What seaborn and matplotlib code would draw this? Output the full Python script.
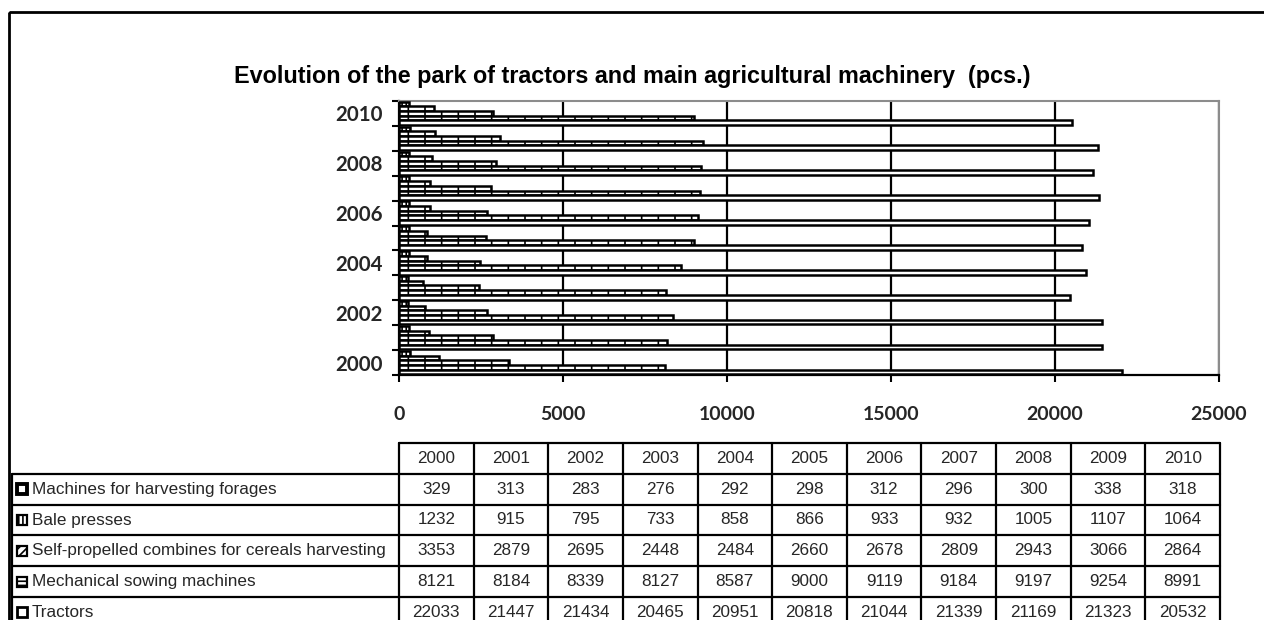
import numpy as np
import pandas as pd
import matplotlib
matplotlib.use("Agg")
import matplotlib.pyplot as plt
from matplotlib.patches import Rectangle
import seaborn as sns

years = ["2000", "2001", "2002", "2003", "2004", "2005",
         "2006", "2007", "2008", "2009", "2010"]
series = ["Machines for harvesting forages",
          "Bale presses",
          "Self-propelled combines for cereals harvesting",
          "Mechanical sowing machines",
          "Tractors"]
forages = [329, 313, 283, 276, 292, 298, 312, 296, 300, 338, 318]
bale_presses = [1232, 915, 795, 733, 858, 866, 933, 932, 1005, 1107, 1064]
combines = [3353, 2879, 2695, 2448, 2484, 2660, 2678, 2809, 2943, 3066, 2864]
sowing = [8121, 8184, 8339, 8127, 8587, 9000, 9119, 9184, 9197, 9254, 8991]
tractors = [22033, 21447, 21434, 20465, 20951, 20818, 21044, 21339, 21169, 21323, 20532]
values = [forages, bale_presses, combines, sowing, tractors]
title = "Evolution of the park of tractors and main agricultural machinery  (pcs.)"
x_ticks = [0, 5000, 10000, 15000, 20000, 25000]

rows = []
for name, vals in zip(series, values):
    for yr, v in zip(years, vals):
        rows.append({"year": yr, "series": name, "count": v})
df = pd.DataFrame(rows)

sns.set_theme(style="white")
plt.rcParams["font.family"] = ["Liberation Sans", "DejaVu Sans"]
plt.rcParams["hatch.linewidth"] = 1.2

W, H = 1264, 620
fig = plt.figure(figsize=(W / 100, H / 100), dpi=100)
fig.patch.set_facecolor("white")

# plot area in pixel coordinates
px_l, px_r, px_t, px_b = 399, 1219, 101, 375
ax = fig.add_axes([px_l / W, 1 - px_b / H, (px_r - px_l) / W, (px_b - px_t) / H])

order = years[::-1]
sns.barplot(data=df, x="count", y="year", hue="series", orient="h",
            order=order, hue_order=series, palette=["white"] * 5,
            edgecolor="black", linewidth=1.8, width=0.94, dodge=True,
            legend=False, ax=ax, zorder=3)

bar_hatches = ["||||", "|", "|", "|", None]
for cont, h in zip(ax.containers, bar_hatches):
    for patch in cont:
        if h:
            patch.set_hatch(h)

ax.set_xlim(0, 25000)
ax.set_ylim(len(years) - 0.5, -0.5)
ax.set_xlabel("")
ax.set_ylabel("")

# vertical gridlines
ax.set_xticks(x_ticks)
ax.set_xticklabels([str(t) for t in x_ticks], fontfamily="Lato",
                   fontweight="bold", fontsize=14)
ax.xaxis.grid(True, color="black", linewidth=1.6)
ax.yaxis.grid(False)
ax.set_axisbelow(True)
ax.tick_params(axis="x", direction="out", length=5, width=1.5,
               color="black", pad=17, bottom=True)

# tick marks between categories, labels every second year
ax.set_yticks(np.arange(-0.5, len(years), 1))
ax.set_yticklabels([])
ax.tick_params(axis="y", which="major", direction="out", length=5,
               width=1.5, color="black", left=True)
lab_years = [y for y in years if int(y) % 2 == 0]
ax.set_yticks([order.index(y) for y in lab_years], lab_years, minor=True)
ax.tick_params(axis="y", which="minor", length=0, pad=12)
for t in ax.get_yticklabels(minor=True):
    t.set_fontfamily("Lato")
    t.set_fontweight("bold")
    t.set_fontsize(14.8)

for side in ["top", "right"]:
    ax.spines[side].set_color("#8c8c8c")
    ax.spines[side].set_linewidth(1.5)
for side in ["left", "bottom"]:
    ax.spines[side].set_color("black")
    ax.spines[side].set_linewidth(1.6)

# overlay for frame, title and data table
ov = fig.add_axes([0, 0, 1, 1], zorder=-1)
ov.set_xlim(0, W)
ov.set_ylim(H, 0)
ov.axis("off")

ov.add_patch(Rectangle((9, 12), W, H, fill=False, edgecolor="black", linewidth=2))
ov.text(632, 77, title, ha="center", va="center", fontsize=16.8,
        fontweight="bold", color="black")

# data table
col_l = 399
col_w = (1220 - col_l) / len(years)
row_top = 443
row_h = 30.8
lab_l = 12
lw = 1.6
n_rows = len(series)
fs = 12.3

ov.plot([col_l, col_l + col_w * len(years)], [row_top, row_top], color="black", lw=lw)
for i in range(len(years) + 1):
    x = col_l + i * col_w
    ov.plot([x, x], [row_top, row_top + row_h * (n_rows + 1)], color="black", lw=lw)
for r in range(1, n_rows + 2):
    y = row_top + r * row_h
    ov.plot([lab_l, col_l + col_w * len(years)], [y, y], color="black", lw=lw)
ov.plot([lab_l, lab_l], [row_top + row_h, row_top + row_h * (n_rows + 1)],
        color="black", lw=lw)

for i, yr in enumerate(years):
    ov.text(col_l + (i + 0.5) * col_w, row_top + 0.5 * row_h, yr,
            ha="center", va="center", fontsize=fs)

key_styles = [
    dict(hatch=None, lw=2.8),
    dict(hatch="||||", lw=1.6),
    dict(hatch="////", lw=1.6),
    dict(hatch="----", lw=1.6),
    dict(hatch=None, lw=2.0),
]
for r, (name, vals) in enumerate(zip(series, values)):
    yc = row_top + (r + 1.5) * row_h
    st = key_styles[r]
    ov.add_patch(Rectangle((17, yc - 5), 10, 10, facecolor="white",
                           edgecolor="black", linewidth=st["lw"],
                           hatch=st["hatch"]))
    ov.text(32, yc, name, ha="left", va="center", fontsize=fs)
    for i, v in enumerate(vals):
        ov.text(col_l + (i + 0.5) * col_w, yc, str(v),
                ha="center", va="center", fontsize=fs)

fig.savefig("out.png", dpi=100, facecolor="white")
